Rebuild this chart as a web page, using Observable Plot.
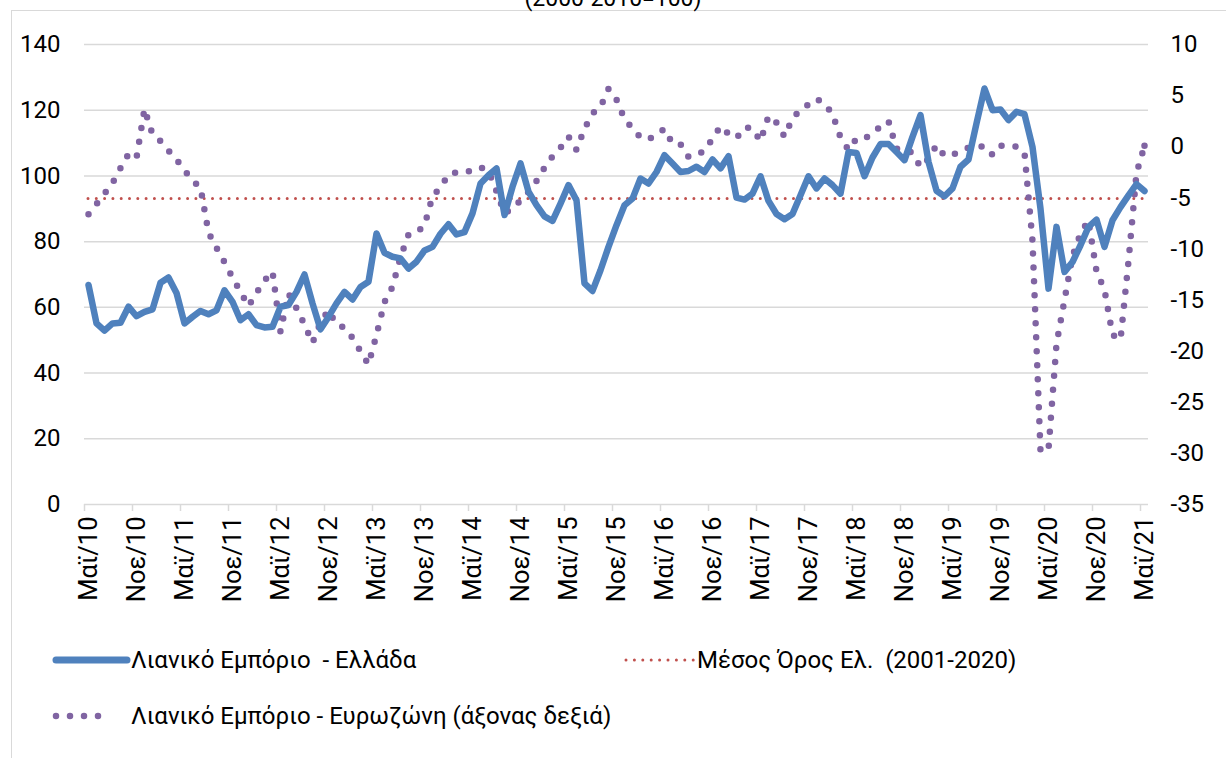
<!DOCTYPE html>
<html>
<head>
<meta charset="utf-8">
<script src="https://cdn.jsdelivr.net/npm/d3@7"></script>
<script src="https://cdn.jsdelivr.net/npm/@observablehq/plot@0.6"></script>
<style>
  body { margin: 0; background: #fff; }
  #wrap { position: relative; width: 1226px; height: 758px; overflow: hidden; background: #fff;
          font-family: Roboto, "Noto Sans", "DejaVu Sans", sans-serif; color: #000; }
  #frame { position: absolute; left: 11px; top: 10px; width: 1400px; height: 900px;
           border-left: 1.5px solid #d9d9d9; border-top: 1.5px solid #d9d9d9; }
  #title { position: absolute; left: 0; top: -13px; width: 1226px; text-align: center;
           font-size: 23px; line-height: 24px; white-space: pre; }
  #chart { position: absolute; left: 0; top: 0; }
  .leg { position: absolute; font-size: 24px; line-height: 30px; white-space: pre; }
  .sw { position: absolute; }
</style>
</head>
<body>
<div id="wrap">
  <div id="frame"></div>
  <div id="title">(2000-2010=100)</div>
  <div id="chart"></div>

  <svg class="sw" style="left:45px;top:648px" width="95" height="24">
    <line x1="11" y1="12" x2="82" y2="12" stroke="#4f81bd" stroke-width="7" stroke-linecap="round"/>
  </svg>
  <div class="leg" style="left:131px;top:645px">Λιανικό Εμπόριο  - Ελλάδα</div>

  <svg class="sw" style="left:618px;top:652px" width="85" height="16">
    <line x1="8" y1="8" x2="76" y2="8" stroke="#c0504d" stroke-width="3" stroke-linecap="round" stroke-dasharray="0 8.4"/>
  </svg>
  <div class="leg" style="left:697px;top:645px">Μέσος Όρος Ελ.  (2001-2020)</div>

  <svg class="sw" style="left:45px;top:704px" width="85" height="24">
    <line x1="11" y1="12" x2="67" y2="12" stroke="#8064a2" stroke-width="6.5" stroke-linecap="round" stroke-dasharray="0 14"/>
  </svg>
  <div class="leg" style="left:131px;top:701px">Λιανικό Εμπόριο - Ευρωζώνη (άξονας δεξιά)</div>
</div>

<script>
// ---- data (monthly, May 2010 – May 2021) ----
const greece = [
  66.8, 55.1, 52.9, 55.1, 55.3, 60.2, 57.3, 58.6, 59.4, 67.5,
  69.1, 64.4, 55.1, 57.1, 58.9, 57.9, 59.1, 65.2, 61.7, 56.1,
  57.9, 54.6, 53.9, 54.1, 60.2, 60.7, 64.7, 70.0, 61.2, 53.3,
  57.1, 61.2, 64.7, 62.4, 66.2, 67.8, 82.5, 76.6, 75.4, 74.9,
  71.8, 73.9, 77.3, 78.4, 82.4, 85.3, 82.2, 82.9, 88.6, 97.7,
  100.2, 102.3, 88.1, 96.7, 103.8, 95.2, 91.1, 87.7, 86.3, 91.6,
  97.2, 92.6, 67.3, 65.0, 71.3, 78.4, 85.0, 91.1, 93.1, 99.2,
  97.7, 101.2, 106.3, 103.8, 101.2, 101.5, 102.8, 101.2, 105.0, 102.3,
  106.0, 93.4, 92.8, 94.6, 99.9, 92.4, 88.4, 86.8, 88.4, 94.1,
  99.9, 96.2, 99.2, 97.2, 94.6, 107.3, 107.0, 99.9, 105.6, 109.7,
  109.7, 107.3, 104.8, 111.9, 118.5, 104.3, 95.5, 93.8, 96.2, 102.8,
  105.0, 116.0, 126.6, 120.0, 120.2, 117.0, 119.5, 118.8, 108.8, 90.0,
  65.7, 84.5, 70.8, 73.8, 78.9, 84.5, 86.7, 78.4, 86.5, 90.5,
  94.1, 97.5, 95.4
];
const eurozone = [
  -6.6, -5.6, -4.6, -3.55, -2.1, -0.7, -1.1, 3.7, 1.2, 0.55,
  -0.38, -1.25, -2.3, -3.3, -4.0, -8.4, -9.9, -11.3, -12.8, -14.2,
  -15.6, -14.3, -13.1, -12.2, -18.1, -14.35, -15.8, -17.4, -19.2, -17.2,
  -16.0, -17.4, -17.7, -18.7, -20.0, -21.3, -18.4, -15.2, -13.7, -10.8,
  -8.6, -8.4, -7.7, -4.85, -4.0, -2.7, -2.5, -2.5, -2.3, -2.0,
  -2.4, -4.35, -6.5, -6.05, -5.25, -4.4, -3.35, -2.05, -0.95, -0.1,
  1.0, -0.3, 1.75, 3.25, 3.9, 5.65, 4.6, 2.7, 1.8, 0.9,
  0.7, 1.2, 1.75, 0.3, 0.25, -1.0, -0.8, -0.4, 0.8, 2.0,
  1.25, 0.85, 1.9, 1.8, 0.55, 3.0, 2.35, 1.0, 2.8, 3.6,
  4.15, 4.7, 4.2, 3.2, 0.9, -0.3, 0.8, 0.8, 1.3, 2.0,
  2.5, -0.2, -0.3, -0.6, -2.0, -1.2, 0.15, -0.9, -0.8, -0.4,
  -0.1, 0.0, 0.05, -0.8, 0.1, 0.1, 0.0, -0.6, -9.2, -29.8,
  -29.6, -19.3, -15.0, -10.7, -8.5, -7.2, -12.2, -14.0, -18.4, -18.9,
  -11.2, -2.6, 0.1
];
const greeceAverage = [93.1];   // Μέσος Όρος Ελ. (2001-2020)

const xTickLabels = ["Μαϊ/10","Νοε/10","Μαϊ/11","Νοε/11","Μαϊ/12","Νοε/12","Μαϊ/13","Νοε/13",
  "Μαϊ/14","Νοε/14","Μαϊ/15","Νοε/15","Μαϊ/16","Νοε/16","Μαϊ/17","Νοε/17","Μαϊ/18","Νοε/18",
  "Μαϊ/19","Νοε/19","Μαϊ/20","Νοε/20","Μαϊ/21"];
const leftTicks = [0, 20, 40, 60, 80, 100, 120, 140];
const rightTicks = [-35, -30, -25, -20, -15, -10, -5, 0, 5, 10];

// ---- helpers ----
const FONT = 'Roboto, "Noto Sans", "DejaVu Sans", sans-serif';
const L0 = 0, L1 = 140, R0 = -35, R1 = 10;
const toLeft = r => (r - R0) * (L1 - L0) / (R1 - R0) + L0;
const rows = greece.map((v, i) => ({i, greece: v, euro: toLeft(eurozone[i])}));
const lastRow = [rows[rows.length - 1]];
const step = 6;
const labelPos = xTickLabels.map((_, k) => k * step);
const boundaryPos = labelPos.map(p => p - 0.5);
const rightMap = new Map(rightTicks.map(r => [toLeft(r), r]));

const PURPLE = "#8064a2", BLUE = "#4f81bd", RED = "#c0504d";
const H = 640, plotBottom = 504;
const chart = Plot.plot({
  width: 1226,
  height: H,
  marginLeft: 84,
  marginRight: 78,
  marginTop: 44,
  marginBottom: H - plotBottom,
  x: {domain: [-0.5, greece.length - 0.5], axis: null},
  y: {domain: [L0, L1], axis: null},
  style: {fontFamily: FONT, fontSize: "24px", color: "#000", background: "transparent", overflow: "visible"},
  marks: [
    Plot.gridY(leftTicks, {stroke: "#d9d9d9", strokeOpacity: 1, strokeWidth: 1.5}),
    Plot.axisY(leftTicks, {anchor: "left", tickSize: 0, tickPadding: 24, label: null, fontSize: 24}),
    Plot.axisY(rightTicks.map(toLeft), {anchor: "right", tickSize: 0, tickPadding: 22, label: null, fontSize: 24,
      tickFormat: d => String(rightMap.get(d))}),
    Plot.axisX(boundaryPos, {tickSize: 7, tickFormat: () => "", stroke: "#d9d9d9", strokeWidth: 1.5, strokeOpacity: 1, label: null}),
    Plot.axisX(labelPos, {tickSize: 0, tickPadding: 12, tickRotate: -90, label: null, fontSize: 25.5,
      tickFormat: d => xTickLabels[d / step]}),
    // average (dotted red)
    Plot.ruleY(greeceAverage, {x1: () => 0, x2: () => greece.length - 1, stroke: RED, strokeWidth: 3,
      strokeDasharray: "0 8.3", strokeLinecap: "round"}),
    // shadows
    Plot.line(rows, {x: "i", y: "euro", dx: 1.5, dy: 3, stroke: "#000", strokeOpacity: 0.2, strokeWidth: 6.5,
      strokeDasharray: "0 14", strokeLinecap: "round", strokeLinejoin: "round", ariaLabel: "shadow"}),
    Plot.line(rows, {x: "i", y: "greece", dx: 1.5, dy: 3, stroke: "#000", strokeOpacity: 0.2, strokeWidth: 7,
      strokeLinejoin: "round", strokeLinecap: "round", ariaLabel: "shadow"}),
    // eurozone (right axis, dotted purple)
    Plot.line(rows, {x: "i", y: "euro", stroke: PURPLE, strokeWidth: 6.5,
      strokeDasharray: "0 14", strokeLinecap: "round", strokeLinejoin: "round"}),
    Plot.dot(lastRow, {x: "i", y: "euro", r: 3.25, fill: PURPLE, stroke: null}),
    // greece (solid blue)
    Plot.line(rows, {x: "i", y: "greece", stroke: BLUE, strokeWidth: 6.5,
      strokeLinejoin: "round", strokeLinecap: "round"})
  ]
});

// soften shadows
const ns = "http://www.w3.org/2000/svg";
const defs = document.createElementNS(ns, "defs");
defs.innerHTML = '<filter id="blurSh" x="-5%" y="-5%" width="110%" height="110%"><feGaussianBlur stdDeviation="1.6"/></filter>';
chart.insertBefore(defs, chart.firstChild);
chart.querySelectorAll('[aria-label="shadow"]').forEach(g => g.setAttribute("filter", "url(#blurSh)"));

document.getElementById("chart").appendChild(chart);
</script>
</body>
</html>
